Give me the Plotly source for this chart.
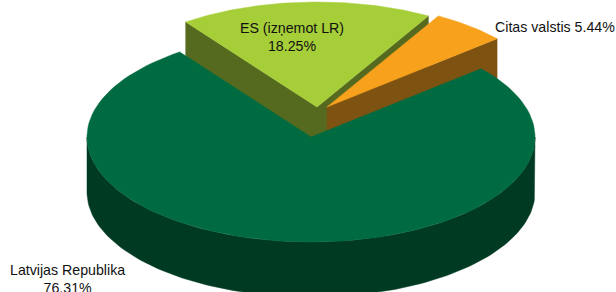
import numpy as np
import plotly.graph_objects as go

# ---- data ----
labels = ["Latvijas Republika", "ES (izņemot LR)", "Citas valstis"]
values = [76.31, 18.25, 5.44]
pct_text = ["76.31%", "18.25%", "5.44%"]

# ---- styling / geometry ----
top_colors = ["#006B40", "#A6CE39", "#F7A11C"]
side_colors = ["#003A22", "#556A1F", "#7E5312"]
offsets = [(0, 0), (6, -30), (16, -30)]       # exploded slices (px)
CX, CY = 311, 137          # pie centre (px)
A, B = 224, 105            # ellipse semi axes (px)
H = 55                     # pie thickness (px)
START = 40.6               # angle (deg) where the first slice starts, going clockwise

W, HT = 616, 292

total = sum(values)
angles = []
cur = START
for v in values:
    span = v / total * 360.0
    angles.append((cur - span, cur))   # counter-clockwise (t1 < t2)
    cur -= span


def P(t_deg, ox, oy, dz=0.0):
    t = np.radians(t_deg)
    return CX + ox + A * np.cos(t), CY + oy - B * np.sin(t) + dz


def arc(t1, t2, ox, oy, dz=0.0, n=120):
    ts = np.linspace(t1, t2, n)
    xs, ys = zip(*[P(t, ox, oy, dz) for t in ts])
    return list(xs), list(ys)


fig = go.Figure()


def poly(xs, ys, color):
    fig.add_trace(go.Scatter(
        x=list(xs) + [xs[0]], y=list(ys) + [ys[0]], mode="lines",
        fill="toself", fillcolor=color, line=dict(width=0.5, color=color),
        hoverinfo="skip", showlegend=False))


# order back to front
order = sorted(range(len(values)),
               key=lambda i: -np.sin(np.radians((angles[i][0] + angles[i][1]) / 2)))

for i in order:
    t1, t2 = angles[i]
    ox, oy = offsets[i]
    ax, ay = CX + ox, CY + oy
    # radial faces
    for t, vis in ((t1, np.cos(np.radians(t1)) > 0), (t2, np.cos(np.radians(t2)) < 0)):
        if vis:
            rx, ry = P(t, ox, oy)
            poly([ax, rx, rx, ax], [ay, ry, ry + H, ay + H], side_colors[i])
    # outer wall (front part)
    segs = []
    for k in range(-2, 2):
        lo, hi = -180 + 360 * k, 0 + 360 * k
        s, e = max(t1, lo), min(t2, hi)
        if e > s:
            segs.append((s, e))
    for s, e in segs:
        xs_t, ys_t = arc(s, e, ox, oy)
        xs_b, ys_b = arc(e, s, ox, oy, H)
        poly(xs_t + xs_b, ys_t + ys_b, side_colors[i])
    # top face
    xs, ys = arc(t1, t2, ox, oy)
    poly([ax] + xs, [ay] + ys, top_colors[i])

font = dict(family="Liberation Sans, Arial, sans-serif", size=14.2, color="#111111")
fig.add_annotation(x=292, y=37, text=labels[1] + "<br>" + pct_text[1],
                   showarrow=False, font=font, xanchor="center", yanchor="middle")
fig.add_annotation(x=493, y=27, text=labels[2] + " " + pct_text[2],
                   showarrow=False, font=font, xanchor="left", yanchor="middle")
fig.add_annotation(x=67, y=279, text=labels[0] + "<br>" + pct_text[0],
                   showarrow=False, font=font, xanchor="center", yanchor="middle")

fig.update_layout(
    width=W, height=HT, margin=dict(l=0, r=0, t=0, b=0),
    paper_bgcolor="white", plot_bgcolor="white",
    xaxis=dict(range=[0, W], visible=False, fixedrange=True),
    yaxis=dict(range=[HT, 0], visible=False, fixedrange=True),
    showlegend=False,
)
for ann in fig.layout.annotations:
    ann.update(xref="x", yref="y")

fig.write_html("out.html", config={"displayModeBar": False},
               post_script="document.body.style.margin='0';document.body.style.overflow='hidden';")
